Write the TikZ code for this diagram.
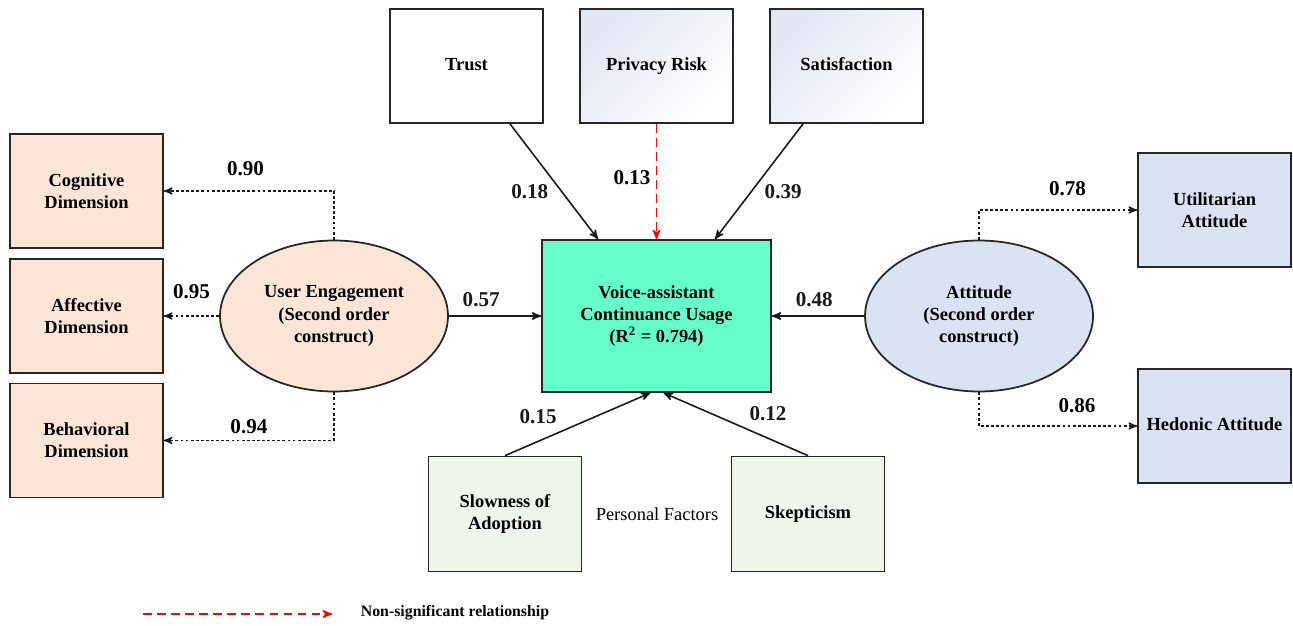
\documentclass[tikz,border=0pt]{standalone}
\usepackage{fontspec}
\setmainfont{Liberation Serif}
\usetikzlibrary{arrows,shapes.geometric,positioning}

\definecolor{boxline}{RGB}{38,38,38}
\definecolor{peach}{RGB}{251,229,214}
\definecolor{mint}{RGB}{102,255,204}
\definecolor{paleblue}{RGB}{218,227,243}
\definecolor{palegreen}{RGB}{238,245,233}
\definecolor{lavender}{RGB}{226,229,244}

\begin{document}
\begin{tikzpicture}[x=0.02cm,y=-0.02cm,>=stealth',
  every node/.style={font=\fontsize{10.5}{12.6}\selectfont\bfseries},
  box/.style={draw=boxline,line width=1pt,align=center,minimum width=3.06cm,minimum height=2.28cm},
  oneline/.style={text height=1.6ex,text depth=0.45ex},
  fadefill/.style={top color=lavender,bottom color=white,shading angle=45},
  latent/.style={ellipse,draw=boxline,line width=1pt,align=center,minimum width=4.56cm,minimum height=3.02cm,inner sep=0pt},
  coef/.style={font=\fontsize{12}{14}\selectfont\bfseries},
  effect/.style={->,line width=0.9pt,color=black!90},
  load/.style={->,line width=0.8pt,draw=black!90,dash pattern=on 1.6pt off 1.3pt},
  nonsig/.style={->,line width=0.9pt,draw=red,dash pattern=on 5pt off 3pt}]
  \useasboundingbox (0,0) rectangle (1293,625);

  % outcome
  \node[box,fill=mint,minimum width=4.58cm,minimum height=3.04cm] (V) at (656.5,316)
    {Voice-assistant\\Continuance Usage\\(R\textsuperscript{2} = 0.794)};

  % top predictors
  \node[box,oneline,fill=white] (T) at (466.5,66) {Trust};
  \node[box,oneline,fadefill] (P) at (656.5,66) {Privacy Risk};
  \node[box,oneline,fadefill] (S) at (846.5,66) {Satisfaction};

  % user engagement
  \node[latent,fill=peach] (UE) at (334,316) {User Engagement\\(Second order\\construct)};
  \node[box,fill=peach] (CD) at (86.5,191) {Cognitive\\Dimension};
  \node[box,fill=peach] (AD) [below=0.18cm of CD] {Affective\\Dimension};
  \node[box,fill=peach] (BD) [below=0.18cm of AD] {Behavioral\\Dimension};

  % attitude
  \node[latent,fill=paleblue] (AT) at (979,316) {Attitude\\(Second order\\construct)};
  \node[box,fill=paleblue] (UA) at (1214.5,210) {Utilitarian\\Attitude};
  \node[box,oneline,fill=paleblue] (HA) at (1214.5,426) {Hedonic Attitude};

  % personal factors
  \node[box,fill=palegreen,minimum height=2.3cm] (SA) at (505,514) {Slowness of\\Adoption};
  \node[box,oneline,fill=palegreen,minimum height=2.3cm] (SK) at (808,514) {Skepticism};
  \node[font=\fontsize{10.5}{12.6}\selectfont] (PF) at (657,514) {Personal Factors};

  \path[effect]
  ([xshift=0.87cm]T.south) edge node[coef,pos=0.59,left=0.14cm] {0.18} ([xshift=-1.17cm]V.north)
  ([xshift=-0.87cm]S.south) edge node[coef,pos=0.59,right=0.14cm] {0.39} ([xshift=1.17cm]V.north)
  (UE) edge node[coef,pos=0.35,above=0.06cm] {0.57} (V)
  (AT) edge node[coef,pos=0.54,above=0.06cm] {0.48} (V)
  (SA.north) edge node[coef,pos=0.4,above left] {0.15} ([xshift=-0.12cm]V.south)
  (SK.north) edge node[coef,pos=0.45,above right] {0.12} ([xshift=0.14cm]V.south)
  ;
  \draw[nonsig] (P) -- node[coef,pos=0.47,left,inner sep=3pt,text=black] {0.13} (V);

  % second order loadings
  \draw[load] (UE.north) |- node[coef,pos=0.76,above=0.18cm] {0.90} (CD.east);
  \draw[load] (UE.west) -- node[coef,pos=0.5,above=0.22cm] {0.95} (UE.west -| AD.east);
  \draw[load] (UE.south) |- node[coef,pos=0.75,above] {0.94} (BD.east);
  \draw[load] (AT.north) |- node[coef,pos=0.78,above=0.16cm] {0.78} (UA.west);
  \draw[load] (AT.south) |- node[coef,pos=0.81,above=0.14cm] {0.86} (HA.west);

  % legend
  \coordinate (L1) at (143,614);
  \coordinate (L2) at (332,614);
  \draw[nonsig] (L1) -- (L2);
  \node[font=\fontsize{9}{11}\selectfont\bfseries] (NS) at (455,613) {Non-significant relationship};
\end{tikzpicture}
\end{document}
